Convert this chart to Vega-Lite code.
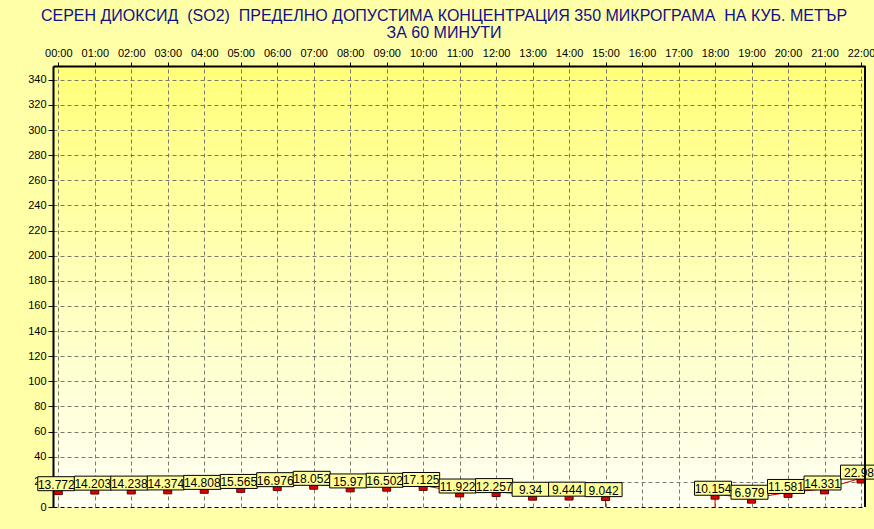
{
  "$schema": "https://vega.github.io/schema/vega-lite/v6.json",
  "width": 812,
  "height": 441,
  "autosize": {"type": "none"},
  "padding": {"left": 53, "top": 66, "right": 9, "bottom": 22},
  "background": "#FFFFA8",
  "title": {
    "text": ["СЕРЕН ДИОКСИД \u00a0(SO2) \u00a0ПРЕДЕЛНО ДОПУСТИМА КОНЦЕНТРАЦИЯ 350 МИКРОГРАМА \u00a0НА КУБ. МЕТЪР", "ЗА 60 МИНУТИ"],
    "fontSize": 16,
    "font": "Liberation Sans, Arial, sans-serif",
    "color": "#10108A",
    "fontWeight": "normal",
    "anchor": "middle",
    "dx": -15,
    "offset": 6,
    "lineHeight": 17
  },
  "data": {
    "values": [
      {"hour": 0, "value": 13.772, "seg": 1, "edge": false},
      {"hour": 1, "value": 14.203, "seg": 1, "edge": false},
      {"hour": 2, "value": 14.238, "seg": 1, "edge": false},
      {"hour": 3, "value": 14.374, "seg": 1, "edge": false},
      {"hour": 4, "value": 14.808, "seg": 1, "edge": false},
      {"hour": 5, "value": 15.565, "seg": 1, "edge": false},
      {"hour": 6, "value": 16.976, "seg": 1, "edge": false},
      {"hour": 7, "value": 18.052, "seg": 1, "edge": false},
      {"hour": 8, "value": 15.97, "seg": 1, "edge": false},
      {"hour": 9, "value": 16.502, "seg": 1, "edge": false},
      {"hour": 10, "value": 17.125, "seg": 1, "edge": false},
      {"hour": 11, "value": 11.922, "seg": 1, "edge": false},
      {"hour": 12, "value": 12.257, "seg": 1, "edge": false},
      {"hour": 13, "value": 9.34, "seg": 1, "edge": false},
      {"hour": 14, "value": 9.444, "seg": 1, "edge": false},
      {"hour": 15, "value": 9.042, "seg": 1, "edge": true},
      {"hour": 18, "value": 10.154, "seg": 2, "edge": true},
      {"hour": 19, "value": 6.979, "seg": 2, "edge": false},
      {"hour": 20, "value": 11.581, "seg": 2, "edge": false},
      {"hour": 21, "value": 14.331, "seg": 2, "edge": false},
      {"hour": 22, "value": 22.98, "seg": 2, "edge": false}
    ]
  },
  "encoding": {
    "x": {
      "field": "hour",
      "type": "quantitative",
      "scale": {"domain": [-0.145, 22.11], "nice": false, "zero": false},
      "axis": {
        "orient": "top",
        "title": null,
        "values": [0,1,2,3,4,5,6,7,8,9,10,11,12,13,14,15,16,17,18,19,20,21,22],
        "labelExpr": "(datum.value < 10 ? '0' : '') + datum.value + ':00'",
        "labelFont": "Liberation Sans, Arial, sans-serif",
        "labelFontSize": 11,
        "labelColor": "#000000",
        "labelFlush": false,
        "labelPadding": 4,
        "ticks": true,
        "tickSize": 4,
        "tickColor": "#000000",
        "domain": true,
        "domainColor": "#000000",
        "domainWidth": 2,
        "grid": true,
        "gridColor": "#7A7A6A",
        "gridDash": [4, 3],
        "gridWidth": 1
      }
    },
    "y": {
      "field": "value",
      "type": "quantitative",
      "scale": {"domain": [0, 351], "nice": false},
      "axis": {
        "title": null,
        "values": [0,20,40,60,80,100,120,140,160,180,200,220,240,260,280,300,320,340],
        "labelFont": "Liberation Sans, Arial, sans-serif",
        "labelFontSize": 11,
        "labelColor": "#000000",
        "labelPadding": 2,
        "tickSize": 5,
        "tickColor": "#000000",
        "domain": true,
        "domainColor": "#000000",
        "domainWidth": 2,
        "grid": true,
        "gridColor": {"condition": {"test": "datum.value === 0", "value": "#000000"}, "value": "#7A7A6A"},
        "gridDash": [4, 3],
        "gridWidth": 1
      }
    }
  },
  "layer": [
    {
      "transform": [{"filter": "datum.edge"}],
      "mark": {"type": "rule", "color": "#CC0000", "strokeWidth": 1},
      "encoding": {"y2": {"datum": 0}}
    },
    {
      "mark": {"type": "line", "color": "#CC0000", "strokeWidth": 1},
      "encoding": {"detail": {"field": "seg", "type": "nominal"}}
    },
    {
      "mark": {"type": "point", "shape": "M-1,-0.6L1,-0.6L1,0.6L-1,0.6Z", "filled": true, "fill": "#DD0000", "stroke": "#600000", "strokeWidth": 1, "size": 64, "opacity": 1, "yOffset": 2.5}
    },
    {
      "mark": {"type": "point", "shape": "M-1,-0.378L1,-0.378L1,0.378L-1,0.378Z", "filled": true, "fill": "#FFFF99", "stroke": "#000000", "strokeWidth": 1, "size": 1369, "opacity": 1, "xOffset": -2, "yOffset": -6}
    },
    {
      "mark": {"type": "text", "fontSize": 12, "font": "Liberation Sans, Arial, sans-serif", "color": "#000000", "xOffset": -2, "yOffset": -5, "baseline": "middle", "align": "center"},
      "encoding": {"text": {"field": "value", "type": "nominal"}}
    },
    {
      "mark": {"type": "rule", "color": "#000000", "strokeWidth": 2},
      "encoding": {"x": {"datum": 22.11}, "y": {"datum": 0}, "y2": {"datum": 351}}
    }
  ],
  "config": {
    "view": {
      "stroke": null,
      "fill": {"gradient": "linear", "x1": 0, "y1": 0, "x2": 0, "y2": 1, "stops": [{"offset": 0, "color": "#FFFF78"}, {"offset": 0.5, "color": "#FFFFBC"}, {"offset": 1, "color": "#FFFFF4"}]}
    }
  }
}
